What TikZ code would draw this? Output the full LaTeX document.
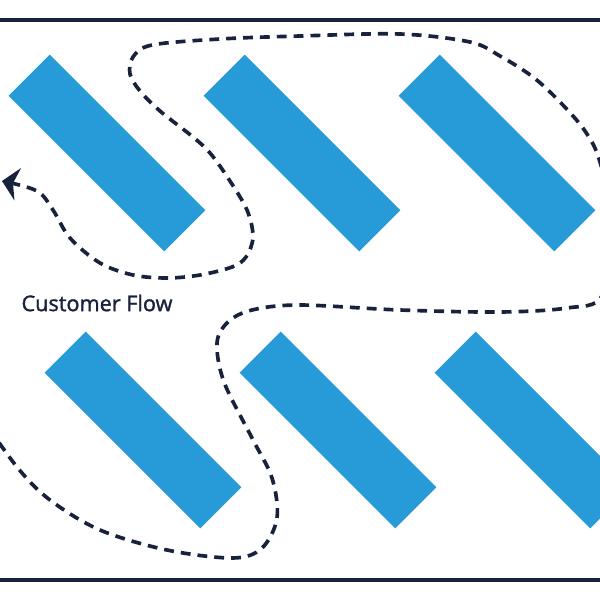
\documentclass[tikz,border=0pt]{standalone}
\usepackage{fontspec}
\setmainfont{Open Sans}
\newfontfamily\labelfont[FakeBold=1.4]{Open Sans}
\usetikzlibrary{arrows.meta}
\definecolor{shelfblue}{RGB}{39,155,216}
\definecolor{navy}{RGB}{24,34,60}
\begin{document}
\begin{tikzpicture}[x=0.025cm,y=-0.025cm]
		\tikzstyle{shelf}=[fill=shelfblue,rotate=-45,minimum width=5.5cm,minimum height=1.45cm,inner sep=0pt]
		\tikzstyle{flow}=[navy,line width=2.6pt,dash pattern=on 7pt off 5pt,-{Stealth[length=0.4cm,width=0.82cm,inset=0.12cm]}]
		\clip (0,0) rectangle (600,600);
		\fill[white] (0,0) rectangle (600,600);

		% floor outline
		\draw[navy,line width=2.5pt] (-20,20) rectangle (620,580);

		% shelves
		\node[shelf](s1) at (107,153){};
		\node[shelf](s2) at (302,153){};
		\node[shelf](s3) at (497,153){};
		\node[shelf](s4) at (143,430){};
		\node[shelf](s5) at (338,430){};
		\node[shelf](s6) at (533,430){};

		\node[navy,font=\labelfont\fontsize{15.4}{18}\selectfont](flowlabel) at (97,303){Customer Flow};

		% path through the aisles
		\draw[flow] plot[smooth,tension=0.55] coordinates {(-20,415) (17,467) (50,500) (100,530) (167,550) (233,558) (262,548) (277,518) (272,478) (252,438) (224,382) (217,343) (228,322) (252,310) (300,305) (400,310) (500,312) (567,308) (602,296) (614,230) (600,162) (585,131) (560,102) (533,77) (500,56) (470,42) (400,34) (300,36) (220,39) (152,45) (133,57) (130,74) (140,91) (160,111) (193,137) (210,153) (228,178) (247,210) (253,237) (246,257) (232,267) (200,275) (167,278) (133,275) (100,263) (70,238) (53,210) (37,191) (2,181)};
\end{tikzpicture}
\end{document}
